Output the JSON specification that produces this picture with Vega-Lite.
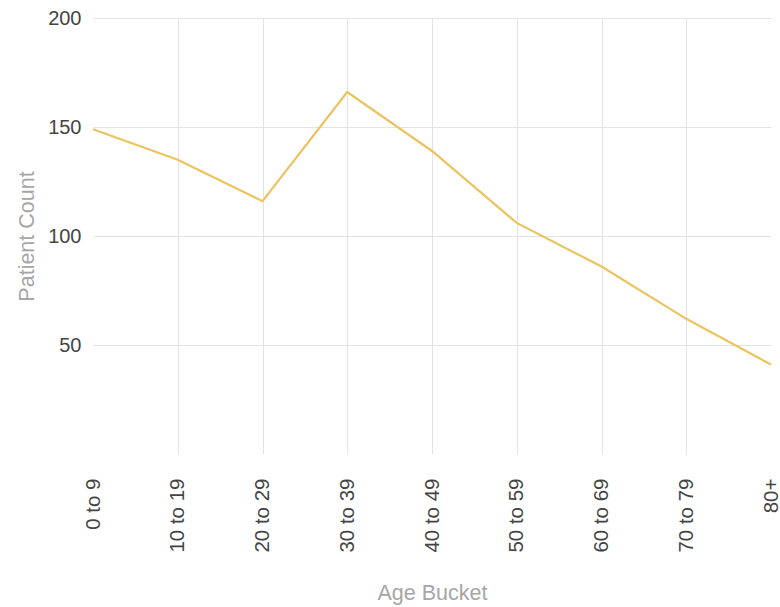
{
  "$schema": "https://vega.github.io/schema/vega-lite/v6.json",
  "autosize": "none",
  "width": 678,
  "height": 436,
  "padding": {"left": 93, "top": 18, "right": 9, "bottom": 153},
  "background": "white",
  "config": {
    "view": {"stroke": null},
    "font": "Arial",
    "axis": {"labelFont": "Arial", "titleFont": "Arial"}
  },
  "data": {
    "values": [
      {"bucket": "0 to 9", "count": 149},
      {"bucket": "10 to 19", "count": 135},
      {"bucket": "20 to 29", "count": 116},
      {"bucket": "30 to 39", "count": 166},
      {"bucket": "40 to 49", "count": 139},
      {"bucket": "50 to 59", "count": 106},
      {"bucket": "60 to 69", "count": 86},
      {"bucket": "70 to 79", "count": 62},
      {"bucket": "80+", "count": 41}
    ]
  },
  "mark": {"type": "line", "color": "#ebc35f", "strokeWidth": 2.2},
  "encoding": {
    "x": {
      "field": "bucket",
      "type": "ordinal",
      "sort": null,
      "scale": {"type": "point", "padding": 0},
      "axis": {
        "title": "Age Bucket",
        "titleFontSize": 21.5,
        "titleFontWeight": "normal",
        "titleColor": "#a6a6a6",
        "titlePadding": 30,
        "labelAngle": 270,
        "labelAlign": "right",
        "labelBaseline": "middle",
        "labelFontSize": 20.5,
        "labelColor": "#444444",
        "labelPadding": 24,
        "ticks": false,
        "domain": false,
        "grid": true,
        "gridColor": {"condition": {"test": "datum.value === '0 to 9' || datum.value === '80+'", "value": "transparent"}, "value": "#e3e3e3"},
        "gridWidth": 1
      }
    },
    "y": {
      "field": "count",
      "type": "quantitative",
      "scale": {"domain": [0, 200], "nice": false},
      "axis": {
        "title": "Patient Count",
        "titleFontSize": 21.5,
        "titleFontWeight": "normal",
        "titleColor": "#a6a6a6",
        "titlePadding": 9,
        "values": [50, 100, 150, 200],
        "labelFontSize": 20,
        "labelColor": "#444444",
        "labelPadding": 12,
        "ticks": false,
        "domain": false,
        "grid": true,
        "gridColor": "#e3e3e3",
        "gridWidth": 1
      }
    }
  }
}
